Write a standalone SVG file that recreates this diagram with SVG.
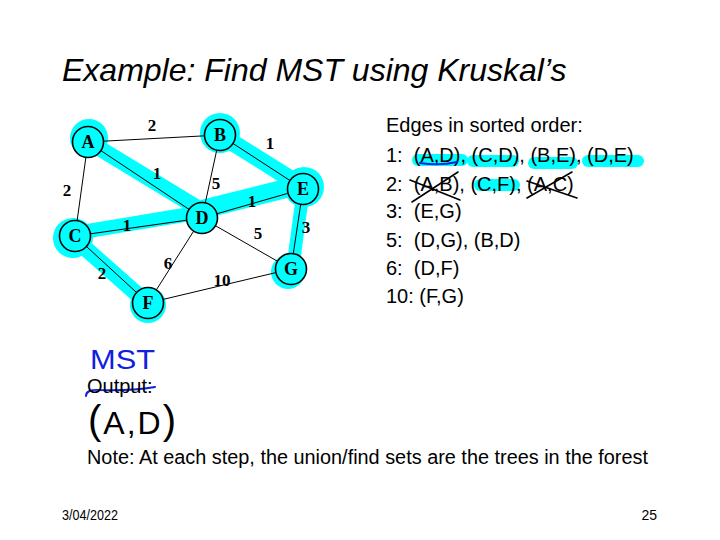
<svg xmlns="http://www.w3.org/2000/svg" width="720" height="540" viewBox="0 0 720 540">
<style>
.hl{stroke:#00FFFF;fill:none;stroke-linecap:round;stroke-linejoin:round}
.hb{fill:#00FFFF}
.edge{stroke:#000;stroke-width:1;fill:none}
.node circle{fill:#00FFFF;stroke:#000;stroke-width:1.6}
.nl{font-family:"Liberation Serif","Times New Roman",serif;font-weight:bold;font-size:18px;text-anchor:middle}
.el{font-family:"Liberation Serif","Times New Roman",serif;font-weight:bold;font-size:17px;text-anchor:middle}
.t{font-family:"Liberation Sans",Arial,sans-serif;font-size:20px;fill:#000}
.ink{fill:none;stroke-linecap:round;stroke-linejoin:round}
</style>
<rect width="720" height="540" fill="#fff"/>
<text x="62" y="81" font-family="'Liberation Sans',Arial,sans-serif" font-style="italic" font-size="32">Example: Find MST using Kruskal’s</text>

<g id="highlights">
<circle class="hb" cx="89" cy="138" r="19"/>
<circle class="hb" cx="220" cy="133" r="20"/>
<circle class="hb" cx="304" cy="187" r="20"/>
<circle class="hb" cx="73" cy="238" r="20"/>
<circle class="hb" cx="148" cy="305" r="18"/>
<circle class="hb" cx="288" cy="272" r="17"/>
<path class="hl" stroke-width="16" d="M94,145 L196,207"/>
<path class="hl" stroke-width="14" d="M76,233 L196,213"/>
<path class="hl" stroke-width="19" d="M200,210 L300,185"/>
<path class="hl" stroke-width="17" d="M222,136 L302,186"/>
<path class="hl" stroke-width="13" d="M303,192 L293,266"/>
<path class="hl" stroke-width="16" d="M76,240 L146,302"/>
</g>

<g id="connectors">
<line class="edge" x1="88" y1="142" x2="220" y2="135"/>
<line class="edge" x1="88" y1="142" x2="75" y2="236"/>
<line class="edge" x1="88" y1="142" x2="202" y2="218"/>
<line class="edge" x1="220" y1="135" x2="202" y2="218"/>
<line class="edge" x1="220" y1="135" x2="303" y2="189"/>
<line class="edge" x1="75" y1="236" x2="202" y2="218"/>
<line class="edge" x1="75" y1="236" x2="148" y2="303"/>
<line class="edge" x1="202" y1="218" x2="303" y2="189"/>
<line class="edge" x1="202" y1="218" x2="148" y2="303"/>
<line class="edge" x1="202" y1="218" x2="291" y2="269"/>
<line class="edge" x1="303" y1="189" x2="291" y2="269"/>
<line class="edge" x1="148" y1="303" x2="291" y2="269"/>
<g class="el">
<text x="152" y="131">2</text>
<text x="157" y="179">1</text>
<text x="67" y="196">2</text>
<text x="216" y="189">5</text>
<text x="270" y="149">1</text>
<text x="252" y="207">1</text>
<text x="306" y="233">3</text>
<text x="127" y="231">1</text>
<text x="258" y="239">5</text>
<text x="168" y="269">6</text>
<text x="102" y="279">2</text>
<text x="222" y="286">10</text>
</g>
</g>

<g id="node-A" class="node"><circle cx="88" cy="142" r="15.5"/><text class="nl" x="88" y="148">A</text></g>
<g id="node-B" class="node"><circle cx="220" cy="135" r="15.5"/><text class="nl" x="220" y="141">B</text></g>
<g id="node-E" class="node"><circle cx="303" cy="189" r="15.5"/><text class="nl" x="303" y="195">E</text></g>
<g id="node-D" class="node"><circle cx="202" cy="218" r="15.5"/><text class="nl" x="202" y="224">D</text></g>
<g id="node-C" class="node"><circle cx="75" cy="236" r="15.5"/><text class="nl" x="75" y="242">C</text></g>
<g id="node-G" class="node"><circle cx="291" cy="269" r="15.5"/><text class="nl" x="291" y="275">G</text></g>
<g id="node-F" class="node"><circle cx="148" cy="303" r="15.5"/><text class="nl" x="148" y="309">F</text></g>

<g id="text-highlights">
<path class="hl" stroke-width="12" d="M418,160 L462,160"/>
<path class="hl" stroke-width="12" d="M473,161 L513,161"/>
<path class="hl" stroke-width="12" d="M534,163 L572,163"/>
<path class="hl" stroke-width="12" d="M588,161 L638,161"/>
<path class="hl" stroke-width="12" d="M480,185 L514,185"/>
</g>

<g id="edge-list" class="t">
<text x="386" y="132">Edges in sorted order:</text>
<text x="386" y="162" xml:space="preserve">1:  (A,D), (C,D), (B,E), (D,E)</text>
<text x="386" y="191" xml:space="preserve">2:  (A,B), (C,F), (A,C)</text>
<text x="386" y="218" xml:space="preserve">3:  (E,G)</text>
<text x="386" y="247" xml:space="preserve">5:  (D,G), (B,D)</text>
<text x="386" y="275" xml:space="preserve">6:  (D,F)</text>
<text x="386" y="303" xml:space="preserve">10: (F,G)</text>
</g>

<g id="ink-marks">
<path class="ink" stroke="#1020E0" stroke-width="2" d="M420,163 Q440,166 457,162"/>
<path class="ink" stroke="#000" stroke-width="1.6" d="M410,180 L460,200 M412,202 L458,172"/>
<path class="ink" stroke="#000" stroke-width="1.6" d="M527,181 L577,198 M527,198 L572,172"/>
<path class="ink" stroke="#1020E0" stroke-width="2" d="M86,396 Q86,389 100,390 Q130,391 155,387"/>
</g>

<text x="87" y="393" class="t">Output:</text>
<text x="90" y="369" font-family="'Liberation Sans',Arial,sans-serif" font-size="28" fill="#1020E0" textLength="65" lengthAdjust="spacingAndGlyphs">MST</text>
<text x="88" y="434" font-family="'Liberation Sans',Arial,sans-serif" fill="#000" letter-spacing="2"><tspan font-size="40">(</tspan><tspan font-size="32">A,D</tspan><tspan font-size="40">)</tspan></text>
<text x="87" y="464" class="t" textLength="561" lengthAdjust="spacingAndGlyphs">Note: At each step, the union/find sets are the trees in the forest</text>

<text x="62" y="520" font-family="'Liberation Sans',Arial,sans-serif" font-size="14" textLength="56" lengthAdjust="spacingAndGlyphs">3/04/2022</text>
<text x="657" y="520" font-family="'Liberation Sans',Arial,sans-serif" font-size="14" text-anchor="end">25</text>
</svg>
